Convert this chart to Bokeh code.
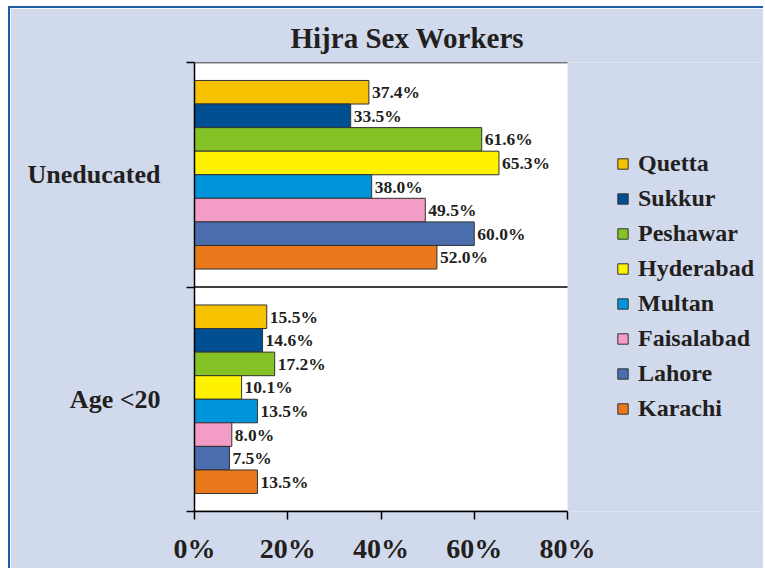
from bokeh.plotting import figure
from bokeh.models import (Range1d, FixedTicker, PrintfTickFormatter, ColumnDataSource,
                          Legend, LegendItem, Title)
from bokeh.core.properties import value
from bokeh.embed import file_html
from bokeh.resources import INLINE

categories = ["Age <20", "Uneducated"]  # bottom to top
cities = ["Quetta", "Sukkur", "Peshawar", "Hyderabad", "Multan", "Faisalabad", "Lahore", "Karachi"]
uneducated = [37.4, 33.5, 61.6, 65.3, 38.0, 49.5, 60.0, 52.0]
age_under_20 = [15.5, 14.6, 17.2, 10.1, 13.5, 8.0, 7.5, 13.5]
colors = ["#F6C200", "#004F93", "#85C226", "#FFF200", "#0095DA", "#F29CC6", "#4A6DAE", "#E9771B"]
x_ticks = [0, 20, 40, 60, 80]
x_max = 80

BG = "#D1DAEC"
TXT = "#231F20"
FONT = "Liberation Serif"

W, H = 755, 562
LEFT, TOP, BOTTOM = 184, 54, 59
AXIS_PX = 373                      # pixel length of the 0..80 % axis
FRAME_W = W - LEFT
x_end = x_max * FRAME_W / AXIS_PX  # frame extends to the right to hold the legend

p = figure(width=W, height=H, output_backend="svg", toolbar_location=None,
           x_range=Range1d(0, x_end), y_range=Range1d(0, len(categories)),
           min_border_left=LEFT, min_border_right=0, min_border_top=TOP, min_border_bottom=BOTTOM)
p.background_fill_color = BG
p.border_fill_color = BG
p.outline_line_color = None
p.styles = {"border-top": "2px solid #1E5DA4", "border-left": "2px solid #1E5DA4",
            "margin-left": "8px", "margin-top": "6px"}

p.title = Title(text="Hijra Sex Workers", align="left", offset=96, standoff=17,
                text_font=FONT, text_font_size="29px", text_font_style="bold", text_color=TXT)

# white plotting area
p.quad(left=[0], right=[x_max], bottom=[0], top=[len(categories)], fill_color="white", line_color=None)
# category boundary lines
bounds = list(range(len(categories) + 1))
p.segment(x0=[0] * len(bounds), x1=[x_max] * len(bounds), y0=bounds, y1=bounds,
          line_color="black", line_width=1.5)

n = len(cities)
pad = 0.08
bh = (1 - 2 * pad) / n
series = {"Uneducated": uneducated, "Age <20": age_under_20}
renderers = []
for i, city in enumerate(cities):
    ys, xs, labels = [], [], []
    for ci, cat in enumerate(categories):
        ys.append(ci + 1 - pad - bh * (i + 0.5))
        v = series[cat][i]
        xs.append(v)
        labels.append(f"{v:.1f}%")
    src = ColumnDataSource(dict(y=ys, x=xs, label=labels))
    r = p.hbar(y="y", right="x", left=0, height=bh, source=src, fill_color=colors[i],
               line_color="#333333", line_width=1)
    renderers.append((city, r))
    p.text(x="x", y="y", text="label", source=src, x_offset=3, text_baseline="middle",
           text_font=value(FONT), text_font_size="17.5px",
           text_font_style="bold", text_color=TXT)

# x axis
p.xaxis.ticker = FixedTicker(ticks=x_ticks)
p.xaxis.bounds = (0, x_max)
p.xaxis.formatter = PrintfTickFormatter(format="%d%%")
p.xaxis.major_tick_in = 0
p.xaxis.major_tick_out = 8
p.xaxis.minor_tick_out = 0
p.xaxis.minor_tick_in = 0
p.xaxis.axis_line_color = "black"
p.xaxis.axis_line_width = 1.5
p.xaxis.major_tick_line_width = 1.5
p.xaxis.major_label_text_font = FONT
p.xaxis.major_label_text_font_size = "28px"
p.xaxis.major_label_text_font_style = "bold"
p.xaxis.major_label_text_color = TXT
p.xaxis.major_label_standoff = 13
p.xgrid.grid_line_color = None

# y axis
p.yaxis.ticker = FixedTicker(ticks=[0.5, 1.5], minor_ticks=bounds)
p.yaxis.major_label_overrides = {0.5: categories[0], 1.5: categories[1]}
p.yaxis.major_tick_in = 0
p.yaxis.major_tick_out = 0
p.yaxis.minor_tick_in = 0
p.yaxis.minor_tick_out = 8
p.yaxis.minor_tick_line_color = "black"
p.yaxis.minor_tick_line_width = 1.5
p.yaxis.axis_line_width = 1.5
p.yaxis.major_label_text_font = FONT
p.yaxis.major_label_text_font_size = "26px"
p.yaxis.major_label_text_font_style = "bold"
p.yaxis.major_label_text_color = TXT
p.yaxis.major_label_standoff = 26
p.ygrid.grid_line_color = None

legend = Legend(items=[LegendItem(label=c, renderers=[r]) for c, r in renderers],
                location=(422, 89), background_fill_alpha=0, border_line_color=None,
                glyph_width=13, glyph_height=13, label_text_font=FONT,
                label_text_font_size="24px", label_text_font_style="bold",
                label_text_color=TXT, spacing=8, padding=0, margin=0, label_standoff=9)
p.add_layout(legend)

open("out.html", "w").write(file_html(p, INLINE))
